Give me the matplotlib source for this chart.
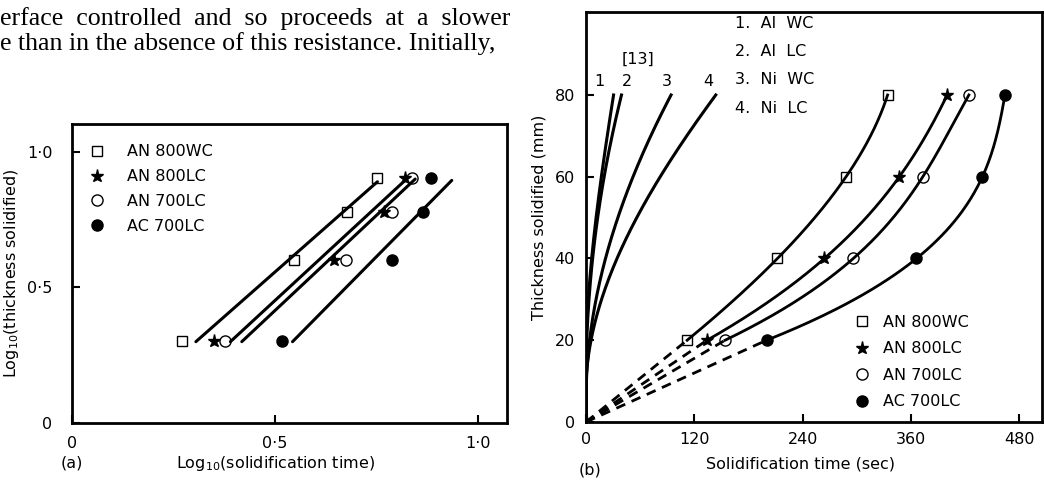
import matplotlib.pyplot as plt
import numpy as np

plt.rcParams['font.family'] = ['DejaVu Sans']

# body text above the figure (cut at the left edge in the scan)
page_lines = ["erface  controlled  and  so  proceeds  at  a  slower",
              "e than in the absence of this resistance. Initially,"]

series_names = ['AN 800WC', 'AN 800LC', 'AN 700LC', 'AC 700LC']
series_markers = ['s', '*', 'o', 'o']
series_fill = ['none', 'k', 'none', 'k']
series_size = [7, 9.5, 8, 8]

# (a) log10 of thickness (cm) and log10 of solidification time (min)
a_log_thick = [0.301, 0.602, 0.778, 0.903]
a_log_time_an800wc = [0.27, 0.547, 0.677, 0.75]
a_log_time_an800lc = [0.35, 0.645, 0.767, 0.82]
a_log_time_an700lc = [0.377, 0.674, 0.787, 0.836]
a_log_time_ac700lc = [0.518, 0.787, 0.865, 0.883]
# straight fit lines: start and end points
a_fit_x_start = [0.305, 0.39, 0.418, 0.543]
a_fit_x_end = [0.752, 0.82, 0.845, 0.935]
a_fit_y_start = [0.30, 0.30, 0.30, 0.30]
a_fit_y_end = [0.89, 0.895, 0.90, 0.895]

# (b) thickness (mm) against solidification time (sec)
b_thick = [20, 40, 60, 80]
b_time_an800wc = [112, 212, 288, 334]
b_time_an800lc = [134, 264, 347, 400]
b_time_an700lc = [154, 296, 373, 424]
b_time_ac700lc = [200, 366, 439, 464]

# reference curves [13]
ref_thick = [0, 10, 20, 30, 40, 50, 60, 70, 80]
ref_time_al_wc = [0, 0.5, 1, 2, 5, 11, 18, 24, 30]
ref_time_al_lc = [0, 0.6, 1.5, 3, 6, 13, 21, 29, 39]
ref_time_ni_wc = [0, 1.5, 4, 10.5, 21, 36, 52, 72, 94]
ref_time_ni_lc = [0, 2, 6, 17, 32, 56, 84, 112, 143]
ref_numbers = ['1', '2', '3', '4']
ref_number_x = [15, 45, 89, 135]
ref_key = ['1.  Al  WC', '2.  Al  LC', '3.  Ni  WC', '4.  Ni  LC']


def style_axes(ax):
    for s in ax.spines.values():
        s.set_linewidth(2)
    ax.tick_params(direction='in', length=6, width=1.5, labelsize=11.5)


def panel_a(ax):
    times = [a_log_time_an800wc, a_log_time_an800lc, a_log_time_an700lc, a_log_time_ac700lc]
    for i in range(4):
        ax.plot([a_fit_x_start[i], a_fit_x_end[i]], [a_fit_y_start[i], a_fit_y_end[i]],
                color='k', lw=2.2, solid_capstyle='round')
    for i in range(4):
        ax.plot(times[i], a_log_thick, ls='none', marker=series_markers[i], ms=series_size[i],
                mfc=series_fill[i], mec='k', mew=1.0, color='k', label=series_names[i])
    ax.set_xlim(0, 1.071)
    ax.set_ylim(0, 1.103)
    ax.set_xticks([0, 0.5, 1.0], ['0', '0·5', '1·0'])
    ax.set_yticks([0, 0.5, 1.0], ['0', '0·5', '1·0'])
    style_axes(ax)
    ax.tick_params(axis='y', pad=14)
    ax.tick_params(axis='x', pad=9)
    ax.set_xlabel('Log$_{10}$(solidification time)', fontsize=11.5)
    ax.xaxis.set_label_coords((276 - 72) / 435, -0.105)
    ax.set_ylabel('Log$_{10}$(thickness solidified)', fontsize=11.5, labelpad=4)
    ax.legend(loc='upper left', bbox_to_anchor=(0.01, 0.975), frameon=False, fontsize=11.5,
              handlelength=1.0, handletextpad=1.4, labelspacing=0.62, borderpad=0.3)


def panel_b(ax):
    times = [b_time_an800wc, b_time_an800lc, b_time_an700lc, b_time_ac700lc]
    yy = np.linspace(b_thick[0], b_thick[-1], 200)
    for i in range(4):
        coef = np.polyfit(b_thick, times[i], 3)
        ax.plot(np.polyval(coef, yy), yy, color='k', lw=2)
        ax.plot([0, times[i][0]], [0, b_thick[0]], color='k', lw=2, ls=(0, (3.5, 2.5)))
        ax.plot(times[i], b_thick, ls='none', marker=series_markers[i], ms=series_size[i],
                mfc=series_fill[i], mec='k', mew=1.0, color='k', label=series_names[i])
    # smooth the read-off reference curves for drawing
    yr = np.linspace(0, 80, 200)
    for t in [ref_time_al_wc, ref_time_al_lc, ref_time_ni_wc, ref_time_ni_lc]:
        coef = np.polyfit(ref_thick, t, 3)
        xr = np.clip(np.polyval(coef, yr), 0, None)
        ax.plot(xr, yr, color='k', lw=2.2)
    for n, x in zip(ref_numbers, ref_number_x):
        ax.text(x, 81.5, n, fontsize=11.5, ha='center', va='bottom')
    ax.text(58, 87, '[13]', fontsize=11.5, ha='center', va='bottom')
    for i, line in enumerate(ref_key):
        ax.text(165, 97.5 - 6.9 * i, line, fontsize=11.5, ha='left', va='center')
    ax.set_xlim(0, 505)
    ax.set_ylim(0, 100.3)
    ax.set_xticks([0, 120, 240, 360, 480])
    ax.set_yticks([0, 20, 40, 60, 80])
    style_axes(ax)
    ax.tick_params(axis='y', pad=8)
    ax.tick_params(axis='x', pad=7)
    ax.set_xlabel('Solidification time (sec)', fontsize=11.5)
    ax.xaxis.set_label_coords((801 - 586) / 456, -0.085)
    ax.set_ylabel('Thickness solidified (mm)', fontsize=11.5, labelpad=6)
    ax.legend(loc='upper left', bbox_to_anchor=(0.56, 0.293), frameon=False, fontsize=11.5,
              handlelength=1.0, handletextpad=0.8, labelspacing=0.72, borderpad=0.3)


fig = plt.figure(figsize=(10.44, 4.8), dpi=100)
ax_a = fig.add_axes([72 / 1044, 1 - 423 / 480, 435 / 1044, 299 / 480])
ax_b = fig.add_axes([586 / 1044, 1 - 422 / 480, 456 / 1044, 410 / 480])
panel_a(ax_a)
panel_b(ax_b)

fig.text(0.0, 1 - 25 / 480, page_lines[0], family='Liberation Serif', fontsize=18.6, va='baseline')
fig.text(0.0, 1 - 50 / 480, page_lines[1], family='Liberation Serif', fontsize=18.6, va='baseline')
fig.text(72 / 1044, 1 - 463 / 480, '(a)', fontsize=11.5, ha='center', va='center')
fig.text(590 / 1044, 1 - 470 / 480, '(b)', fontsize=11.5, ha='center', va='center')

fig.savefig('out.png', dpi=100)
